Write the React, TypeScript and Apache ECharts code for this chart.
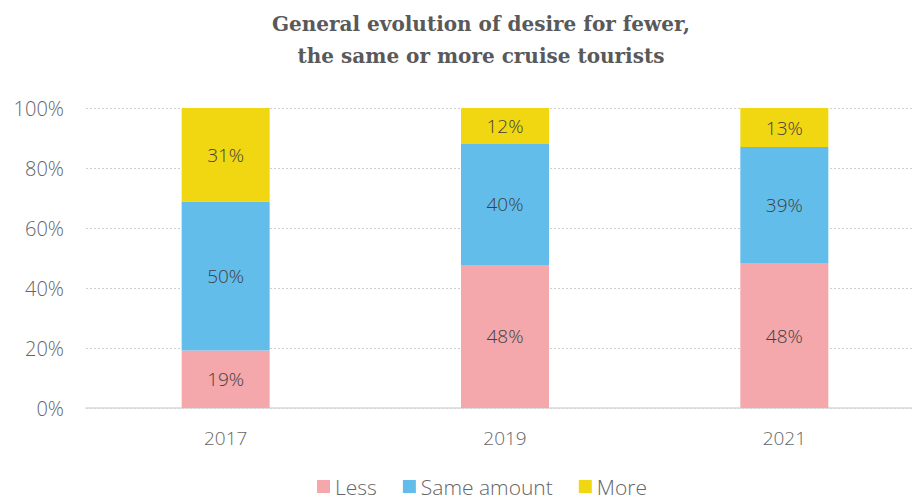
import React, { useEffect, useRef } from "react";
import * as echarts from "echarts";

const years = ["2017", "2019", "2021"];
const less = [19.2, 47.7, 48.3];
const same = [49.6, 40.3, 38.7];
const more = [31.2, 12.0, 13.0];
const seriesNames = ["Less", "Same amount", "More"];
const colors = ["#F4A8AC", "#62BDEB", "#F0D712"];

const labelFont = "'Open Sans', sans-serif";

export default function App() {
  const ref = useRef<HTMLDivElement>(null);
  useEffect(() => {
    if (!ref.current) return;
    const chart = echarts.init(ref.current, null, { renderer: "svg" });
    const datasets = [less, same, more];
    chart.setOption({
      animation: false,
      title: {
        text: "General evolution of desire for fewer,\nthe same or more cruise tourists",
        left: 476,
        top: 3,
        textAlign: "center",
        textStyle: {
          fontFamily: "'DejaVu Serif', serif",
          fontWeight: "bold",
          fontSize: 20,
          lineHeight: 32,
          color: "#595959",
        },
      },
      legend: {
        bottom: 0,
        left: 312,
        itemWidth: 13,
        itemHeight: 13,
        itemGap: 26,
        icon: "rect",
        textStyle: { fontFamily: labelFont, fontSize: 21, color: "#666", fontWeight: 300 },
        data: seriesNames,
      },
      grid: { left: 86, right: 0, top: 108, bottom: 94, containLabel: false },
      xAxis: {
        type: "category",
        data: years,
        axisLine: { show: true, lineStyle: { color: "#d9d9d9", width: 1.5 } },
        axisTick: { show: false },
        axisLabel: { margin: 20, fontFamily: labelFont, fontSize: 19, color: "#666", fontWeight: 300 },
      },
      yAxis: {
        type: "value",
        min: 0,
        max: 100,
        interval: 20,
        axisLine: { show: false },
        axisTick: { show: false },
        splitLine: { lineStyle: { color: "#d0d0d0", type: [2, 2], width: 1 } },
        axisLabel: {
          margin: 22,
          formatter: "{value}%",
          fontFamily: labelFont,
          fontSize: 20,
          color: "#666",
          fontWeight: 300,
        },
      },
      series: datasets.map((d, i) => ({
        name: seriesNames[i],
        type: "bar",
        stack: "total",
        barWidth: 88,
        data: d,
        itemStyle: { color: colors[i] },
        label: {
          show: true,
          position: "inside",
          formatter: (p: any) => Math.round(p.value) + "%",
          fontFamily: labelFont,
          fontSize: 19,
          color: "#404040",
          fontWeight: 300,
        },
      })),
    });
    return () => chart.dispose();
  }, []);
  return (
    <div style={{ width: 912, height: 502, position: "absolute", left: 0, top: 0, overflow: "hidden" }}>
      <div ref={ref} style={{ width: 924, height: 502 }} />
    </div>
  );
}
